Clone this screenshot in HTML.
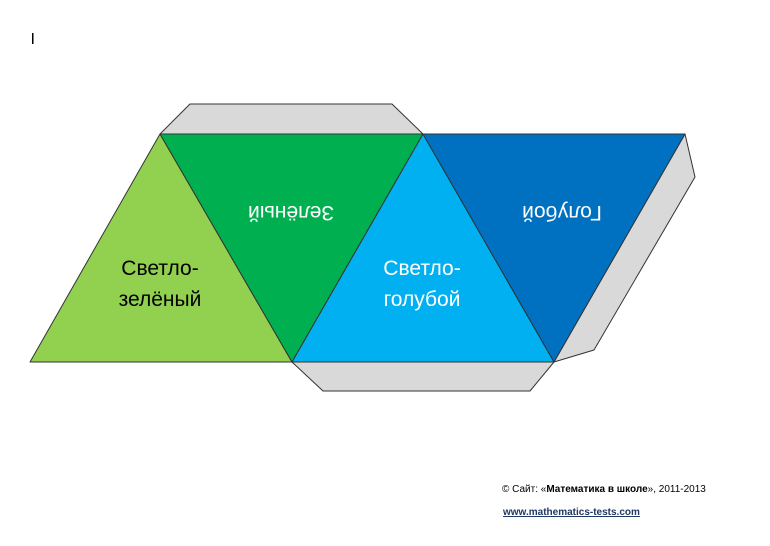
<!DOCTYPE html>
<html><head><meta charset="utf-8"><style>
html,body{margin:0;padding:0;background:#fff;width:770px;height:546px;overflow:hidden}
svg{display:block}
text{font-family:"Liberation Sans","DejaVu Sans",sans-serif}
</style></head><body>
<svg width="770" height="546" viewBox="0 0 770 546" xmlns="http://www.w3.org/2000/svg">
<rect x="32" y="33" width="1.5" height="11" fill="#000"/>
<g stroke="#333" stroke-width="1" stroke-linejoin="round">
<polygon points="160,134 190,104 392,104 423,134" fill="#d9d9d9"/>
<polygon points="685,134 695,177 594,350 554,362" fill="#d9d9d9"/>
<polygon points="292,362 323,391 530,391 554,362" fill="#d9d9d9"/>
<polygon points="160,134 30,362 292,362" fill="#92d050"/>
<polygon points="160,134 423,134 292,362" fill="#00b050"/>
<polygon points="423,134 292,362 554,362" fill="#00b0f0"/>
<polygon points="423,134 685,134 554,362" fill="#0070c0"/>
</g>
<g font-size="21" text-anchor="middle">
<text x="160" y="275" fill="#000">Светло-</text>
<text x="160" y="306" fill="#000">зелёный</text>
<text x="422" y="275" fill="#fff">Светло-</text>
<text x="422" y="306" fill="#fff">голубой</text>
<text transform="translate(291,206) rotate(180)" fill="#fff">Зелёный</text>
<text transform="translate(562,206) rotate(180)" fill="#fff">Голубой</text>
</g>
<text x="502" y="492" font-size="10" fill="#000">© Сайт: «<tspan font-weight="bold">Математика в школе</tspan>»,  2011-2013</text>
<text x="503" y="515" font-size="10" fill="#1f3864" font-weight="bold" text-decoration="underline">www.mathematics-tests.com</text>
</svg>
</body></html>
